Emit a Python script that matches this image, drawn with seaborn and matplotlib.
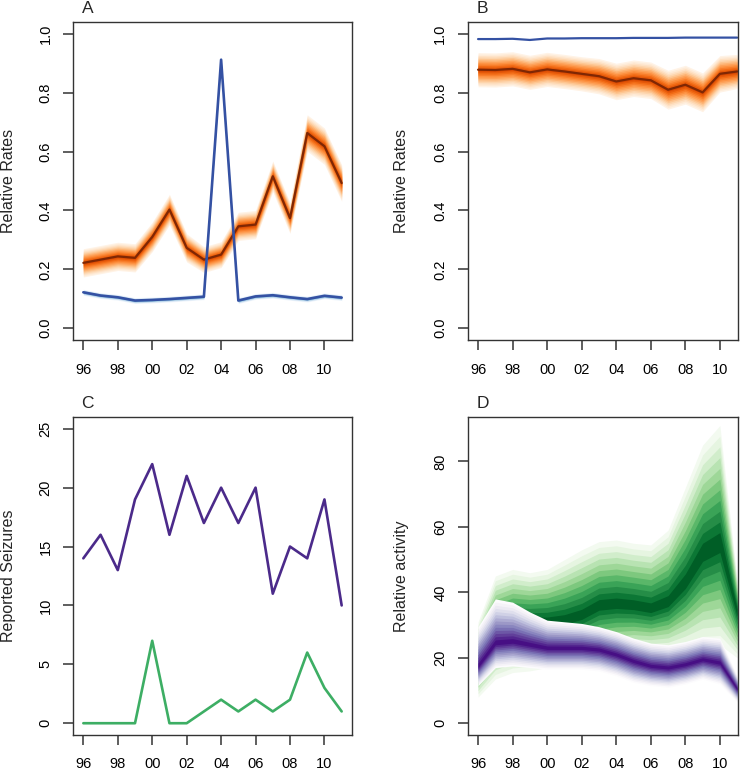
import numpy as np
import matplotlib
matplotlib.use("Agg")
import matplotlib.pyplot as plt
import seaborn as sns

# data
years = list(range(1996, 2012))
tick_years = [1996, 1998, 2000, 2002, 2004, 2006, 2008, 2010]
tick_labels = ["96", "98", "00", "02", "04", "06", "08", "10"]

# panel A
a_orange_mid = [0.222, 0.233, 0.244, 0.239, 0.310, 0.403, 0.273, 0.233,
                0.250, 0.346, 0.352, 0.516, 0.374, 0.663, 0.618, 0.493]
a_orange_spread = [0.048, 0.048, 0.048, 0.048, 0.050, 0.052, 0.048, 0.044,
                   0.044, 0.048, 0.048, 0.052, 0.052, 0.062, 0.062, 0.062]
a_blue_mid = [0.122, 0.111, 0.105, 0.094, 0.096, 0.099, 0.103, 0.107,
              0.912, 0.094, 0.108, 0.112, 0.105, 0.099, 0.110, 0.104]
a_blue_spread = [0.01] * 16

# panel B
b_orange_mid = [0.878, 0.877, 0.881, 0.869, 0.879, 0.872, 0.864, 0.856,
                0.838, 0.849, 0.842, 0.810, 0.827, 0.801, 0.864, 0.872]
b_orange_spread = [0.058, 0.058, 0.058, 0.058, 0.058, 0.058, 0.058, 0.060,
                   0.062, 0.062, 0.062, 0.066, 0.066, 0.066, 0.062, 0.058]
b_blue_mid = [0.982, 0.982, 0.983, 0.979, 0.984, 0.984, 0.985, 0.985,
              0.985, 0.986, 0.986, 0.986, 0.987, 0.987, 0.987, 0.987]

# panel C
c_purple = [14, 16, 13, 19, 22, 16, 21, 17, 20, 17, 20, 11, 15, 14, 19, 10]
c_green = [0, 0, 0, 0, 7, 0, 0, 1, 2, 1, 2, 1, 2, 6, 3, 1]

# panel D
d_green_mid = [19, 29, 31, 31, 31, 31.5, 33, 36, 36.5, 36, 35, 37, 43, 52, 55, 34]
d_green_upper = [31, 45, 47, 46, 47, 50, 53, 55.5, 56, 55, 54.5, 59, 72, 85, 91, 44]
d_green_lower = [8, 13.5, 15.5, 16, 17, 18, 19, 20, 21, 22, 22, 22, 23, 24, 24, 20]
d_purple_mid = [17.5, 24.5, 25, 24, 23, 23, 23, 22.5, 21, 19, 17.5, 17, 18, 19.5, 18.5, 10.5]
d_purple_upper = [29.5, 38, 37, 34, 31.5, 31, 30.5, 29.5, 28, 26, 24.5, 24, 25, 26.5, 26, 14.5]
d_purple_lower = [11.5, 17, 17.5, 17, 16.5, 16.5, 16.5, 16, 14.5, 12.5, 11.5, 11, 12, 13.5, 12, 6.5]

sns.set_style("white")
plt.rcParams['font.family'] = ['Liberation Sans', 'DejaVu Sans']


def fan(ax, mid, lower, upper, cmap_name, c0, c1, n=12):
    cmap = sns.color_palette(cmap_name, as_cmap=True)
    mid = np.array(mid, dtype=float)
    lower = np.array(lower, dtype=float)
    upper = np.array(upper, dtype=float)
    for i in range(n):
        f = (n - i) / n
        col = cmap(c0 + (c1 - c0) * i / (n - 1))
        ax.fill_between(years, mid - (mid - lower) * f, mid + (upper - mid) * f,
                        color=col, lw=0)


def style_axis(ax, letter, ylab, ylim, yticks, xright, lab_x):
    ax.set_xlim(1995.4, xright)
    ax.set_ylim(*ylim)
    ax.set_xticks(tick_years)
    ax.set_xticklabels(tick_labels)
    ax.set_yticks(yticks)
    ax.set_yticklabels([str(t) for t in yticks], rotation=90, va="center")
    ax.tick_params(axis="x", bottom=True, direction="out", length=7.2, width=1.1,
                   color="#333333", pad=9, labelsize=10.5, labelcolor="black")
    ax.tick_params(axis="y", left=True, direction="out", length=7.2, width=1.1,
                   color="#333333", pad=7.5, labelsize=10.5, labelcolor="black")
    for s in ax.spines.values():
        s.set_color("#333333")
        s.set_linewidth(1.0)
        s.set_visible(True)
    ax.set_xlabel("")
    ax.set_ylabel("")
    ax.annotate(letter, xy=(0, 1), xycoords="axes fraction",
                xytext=(6.2, 6.5), textcoords="offset points",
                ha="left", va="baseline", fontsize=12.5)
    bb = ax.get_position()
    fig.text(lab_x / 748, (bb.y0 + bb.y1) / 2, ylab, rotation=90,
             ha="center", va="center", fontsize=11.5)


fig = plt.figure(figsize=(7.48, 7.70), dpi=100)
ax_a = fig.add_axes([73 / 748, 430 / 770, 279 / 748, 318 / 770])
ax_b = fig.add_axes([467.7 / 748, 430 / 770, 270.3 / 748, 318 / 770])
ax_c = fig.add_axes([73 / 748, 35 / 770, 279 / 748, 318 / 770])
ax_d = fig.add_axes([467.7 / 748, 35 / 770, 270.3 / 748, 318 / 770])

# A
lo = np.array(a_orange_mid) - np.array(a_orange_spread)
hi = np.array(a_orange_mid) + np.array(a_orange_spread)
fan(ax_a, a_orange_mid, lo, hi, "Oranges", 0.02, 0.75)
sns.lineplot(x=years, y=a_orange_mid, ax=ax_a, color="#7f2704", lw=1.6)
lo = np.array(a_blue_mid) - np.array(a_blue_spread)
hi = np.array(a_blue_mid) + np.array(a_blue_spread)
fan(ax_a, a_blue_mid, lo, hi, "Blues", 0.05, 0.5, n=4)
sns.lineplot(x=years, y=a_blue_mid, ax=ax_a, color="#3451a3", lw=1.9)
style_axis(ax_a, "A", "Relative Rates", (-0.04, 1.04),
           [0.0, 0.2, 0.4, 0.6, 0.8, 1.0], 2011.6, 8.5)

# B
lo = np.array(b_orange_mid) - np.array(b_orange_spread)
hi = np.array(b_orange_mid) + np.array(b_orange_spread)
fan(ax_b, b_orange_mid, lo, hi, "Oranges", 0.02, 0.75)
sns.lineplot(x=years, y=b_orange_mid, ax=ax_b, color="#7f2704", lw=1.6)
sns.lineplot(x=years, y=b_blue_mid, ax=ax_b, color="#3451a3", lw=1.6)
style_axis(ax_b, "B", "Relative Rates", (-0.04, 1.04),
           [0.0, 0.2, 0.4, 0.6, 0.8, 1.0], 2011.05, 401.5)

# C
sns.lineplot(x=years, y=c_purple, ax=ax_c, color="#4b2a8a", lw=1.9)
sns.lineplot(x=years, y=c_green, ax=ax_c, color="#3dae64", lw=1.9)
style_axis(ax_c, "C", "Reported Seizures", (-1, 26),
           [0, 5, 10, 15, 20, 25], 2011.6, 8.5)

# D
fan(ax_d, d_green_mid, d_green_lower, d_green_upper, "Greens", 0.03, 0.92, n=11)
fan(ax_d, d_purple_mid, d_purple_lower, d_purple_upper, "Purples", 0.0, 0.95, n=14)
style_axis(ax_d, "D", "Relative activity", (-3.6, 93.6),
           [0, 20, 40, 60, 80], 2011.05, 401.5)

fig.savefig("out.png", dpi=100)
